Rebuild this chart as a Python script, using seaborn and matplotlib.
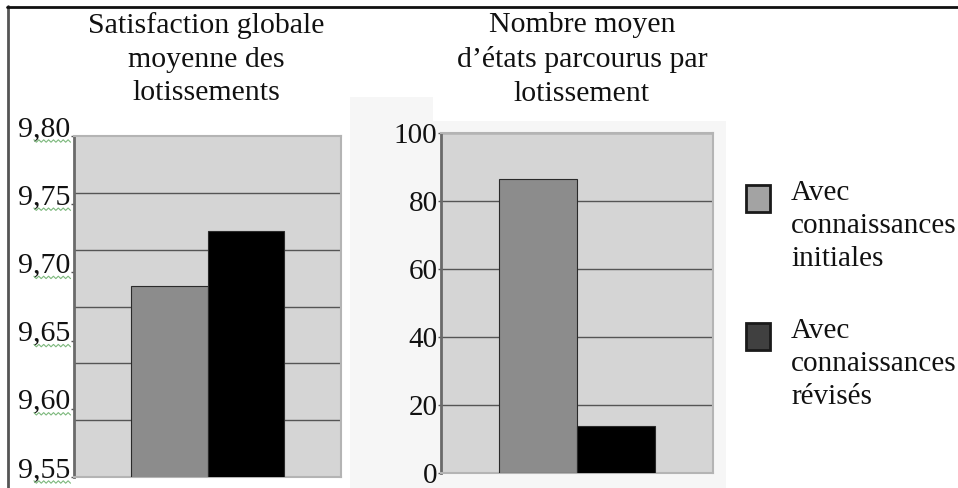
import numpy as np
import pandas as pd
import matplotlib
matplotlib.use("Agg")
import matplotlib.pyplot as plt
import seaborn as sns
from matplotlib.patches import Rectangle
from matplotlib.lines import Line2D
from matplotlib.ticker import FixedLocator, FuncFormatter

# --- data -----------------------------------------------------------------
conditions = ["Avec connaissances initiales", "Avec connaissances révisés"]
legend_labels = ["Avec\nconnaissances\ninitiales", "Avec\nconnaissances\nrévisés"]
satisfaction = [9.69, 9.73]
etats_parcourus = [86.5, 13.8]
title_left = "Satisfaction globale\nmoyenne des\nlotissements"
title_right = "Nombre moyen\nd\u2019états parcourus par\nlotissement"
ticks_left = [9.55, 9.60, 9.65, 9.70, 9.75, 9.80]
ticks_right = [0, 20, 40, 60, 80, 100]

bar_colors = ["#8c8c8c", "#000000"]
legend_colors = ["#a3a3a3", "#404040"]

W, H = 958, 488
sns.set_theme(style="white")
plt.rcParams["font.family"] = ["Liberation Serif", "DejaVu Serif"]

fig = plt.figure(figsize=(W / 100, H / 100), dpi=100)
fig.patch.set_facecolor("white")


def fx(x):
    return x / W


def fy(y):
    return 1 - y / H


def axes_rect(x0, y0, x1, y1):
    return [fx(x0), fy(y1), fx(x1) - fx(x0), fy(y0) - fy(y1)]


# faint backdrop behind the second chart
for (x0, y0, x1, y1) in [(350, 97, 433, 121), (350, 121, 726, 488)]:
    fig.patches.append(Rectangle((fx(x0), fy(y1)), fx(x1) - fx(x0), fy(y0) - fy(y1),
                                 transform=fig.transFigure, facecolor="#f6f6f6",
                                 edgecolor="none", zorder=-5))

# outer frame (left and top edges)
fig.lines.append(Line2D([fx(8), fx(8)], [fy(6), fy(490)], transform=fig.transFigure,
                        color="#555555", lw=2.0, zorder=5))
fig.lines.append(Line2D([fx(7), fx(960)], [fy(7), fy(7)], transform=fig.transFigure,
                        color="#111111", lw=2.0, zorder=5))


def style_axes(ax, labelsize):
    ax.set_zorder(2)
    ax.set_facecolor("#d5d5d5")
    for side in ["top", "right", "bottom"]:
        ax.spines[side].set_visible(True)
        ax.spines[side].set_color("#b4b4b4")
        ax.spines[side].set_linewidth(1.5)
    ax.spines["left"].set_color("#6a6a6a")
    ax.spines["left"].set_linewidth(2.0)
    ax.set_xlim(-0.5, 0.5)
    ax.set_xticks([])
    ax.set_xlabel("")
    ax.set_ylabel("")
    ax.tick_params(axis="y", which="major", left=True, length=2.5, width=1,
                   color="#555555", labelsize=labelsize, pad=0, labelcolor="#111111")


def draw_bars(ax, values):
    df = pd.DataFrame({"groupe": [""] * len(values), "valeur": values,
                       "condition": conditions})
    sns.barplot(data=df, x="groupe", y="valeur", hue="condition",
                palette=bar_colors, width=0.574, edgecolor="#2a2a2a",
                linewidth=0.8, legend=False, ax=ax, zorder=3)


# --- left chart -----------------------------------------------------------
axL = fig.add_axes(axes_rect(74, 136, 341, 477))
draw_bars(axL, satisfaction)
style_axes(axL, 21.5)
axL.set_ylim(ticks_left[0], ticks_left[-1])
axL.set_yticks(ticks_left)
axL.yaxis.set_major_formatter(FuncFormatter(lambda v, p: f"{v:.2f}".replace(".", ",")))
axL.yaxis.set_minor_locator(FixedLocator(np.linspace(ticks_left[0], ticks_left[-1], 7)[1:-1]))
axL.grid(False)
axL.grid(True, which="minor", axis="y", color="#555555", linewidth=1.0, zorder=1)
axL.tick_params(axis="y", which="minor", left=False)
for lab in axL.get_yticklabels():
    lab.set_verticalalignment("baseline")

# --- right chart ----------------------------------------------------------
axR = fig.add_axes(axes_rect(441, 133, 713, 473))
draw_bars(axR, etats_parcourus)
style_axes(axR, 21)
axR.set_ylim(ticks_right[0], ticks_right[-1])
axR.set_yticks(ticks_right)
axR.grid(True, which="major", axis="y", color="#555555", linewidth=1.0, zorder=1)

for ax in (axL, axR):
    ax.set_axisbelow(True)

# --- titles ---------------------------------------------------------------
fig.text(fx(206), fy(12), title_left, ha="center", va="top", fontsize=21.5,
         linespacing=1.38, color="#111111")
fig.text(fx(582), fy(12), title_right, ha="center", va="top", fontsize=21.5,
         linespacing=1.38, color="#111111")

# --- legend ---------------------------------------------------------------
for i, (lab, col) in enumerate(zip(legend_labels, legend_colors)):
    top = 185 + i * 138
    fig.patches.append(Rectangle((fx(746), fy(top + 27)), fx(24), 27 / H,
                                 transform=fig.transFigure, facecolor=col,
                                 edgecolor="#1a1a1a", lw=2.0, zorder=5))
    fig.text(fx(791), fy(top - 5), lab, ha="left", va="top", fontsize=21,
             linespacing=1.35, color="#111111")

# spell-check underline under the left axis labels
fig.canvas.draw()
renderer = fig.canvas.get_renderer()
for lab in axL.get_yticklabels():
    bb = lab.get_window_extent(renderer)
    xs = np.linspace(bb.x0 + 0.3 * bb.width, bb.x1, 16)
    ys = bb.y0 + 1 + np.where(np.arange(16) % 2 == 0, 1.2, -1.2)
    fig.lines.append(Line2D(xs / W, ys / H, transform=fig.transFigure,
                            color="#7cb87c", lw=0.8, zorder=5))

fig.savefig("out.png", dpi=100)
